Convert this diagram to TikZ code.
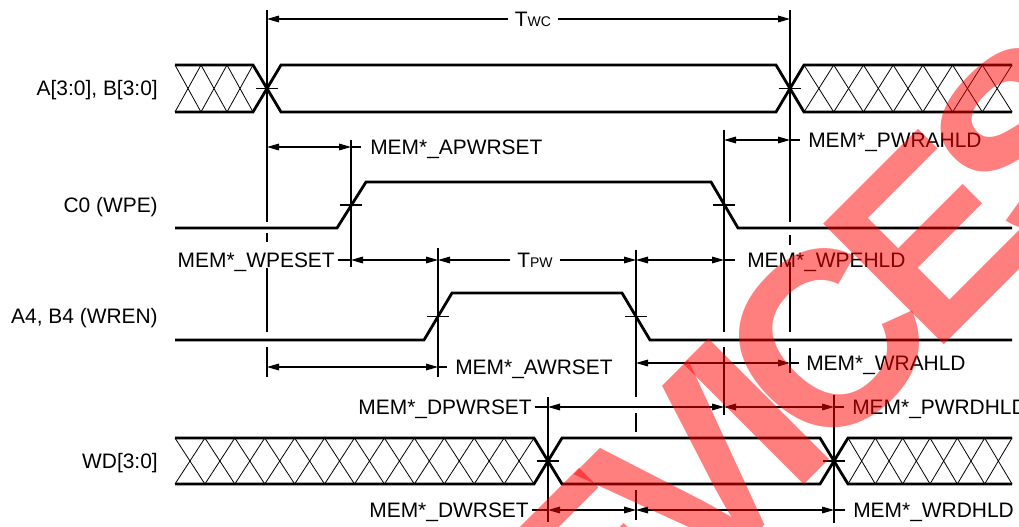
\documentclass[tikz,border=0pt]{standalone}
\usepackage{fontspec}
\setmainfont{Liberation Sans}
\newfontfamily\wmfont[LetterSpace=-10]{Liberation Sans Bold}
\usetikzlibrary{arrows.meta}
\newcommand\hatchfill[5]{%
  \pgfmathsetmacro\hatchp{(#2-#1)/#3}%
  \foreach \i in {1,...,#3}{%
    \draw[hatchline] ({#1+(\i-1)*\hatchp},#4) -- ({#1+\i*\hatchp},#5);
    \draw[hatchline] ({#1+(\i-1)*\hatchp},#5) -- ({#1+\i*\hatchp},#4);
  }}
\begin{document}
\begin{tikzpicture}[x=0.75pt,y=-0.75pt,
  sigline/.style={line width=2.1pt},
  fine/.style={line width=0.8pt},
  hatchline/.style={line width=0.6pt},
  dimarrow/.style={fine,{Triangle[length=9pt,width=5pt]}-{Triangle[length=9pt,width=5pt]}},
  tipto/.style={fine,-{Triangle[length=9pt,width=5pt]}},
  lab/.style={font=\fontsize{15.7}{18}\selectfont, inner sep=0pt, text height=11.24pt, text depth=0pt},
  durlab/.style={lab, fill=white, inner xsep=5pt},
  edgetick/.style={fine},
  watermark/.style={text=red, opacity=0.5, rotate=45, inner sep=0pt,
     font=\wmfont\fontsize{186}{186}\selectfont, text height=133pt, text depth=0pt}]
\useasboundingbox (0,0) rectangle (1019,527);

% guide coordinates
\coordinate (gA) at (267,0);
\coordinate (gB) at (351,0);
\coordinate (gC) at (438,0);
\coordinate (gD) at (636,0);
\coordinate (gE) at (724,0);
\coordinate (gF) at (790,0);
\coordinate (gG) at (548,0);
\coordinate (gH) at (834,0);
\coordinate (rTWC) at (0,19);
\coordinate (rAPW) at (0,147);
\coordinate (rPWRA) at (0,140);
\coordinate (rWPE) at (0,260);
\coordinate (rAWR) at (0,367);
\coordinate (rWRA) at (0,363);
\coordinate (rDPW) at (0,407);
\coordinate (rDWR) at (0,510);

% signal names
\node[lab, anchor=east] (nAB) at (158,88.5) {A[3:0], B[3:0]};
\node[lab, anchor=east] (nC0) at (158,205) {C0 (WPE)};
\node[lab, anchor=east] (nA4) at (158,316.5) {A4, B4 (WREN)};
\node[lab, anchor=east] (nWD) at (158,461) {WD[3:0]};

% guide lines
\draw[fine] (267,10) -- (267,222) (267,233) -- (267,242) (267,268) -- (267,332) (267,347) -- (267,377);
\draw[fine] (351,140) -- (351,267);
\draw[fine] (438,248) -- (438,377);
\draw[fine] (636,250) -- (636,397) (636,413) -- (636,432) (636,490) -- (636,520);
\draw[fine] (724,130) -- (724,332) (724,347) -- (724,415);
\draw[fine] (790,10) -- (790,222) (790,235) -- (790,245) (790,262) -- (790,332) (790,348) -- (790,373);
\draw[fine] (548,397) -- (548,522);
\draw[fine] (834,395) -- (834,523);

% A/B bus
\hatchfill{175}{253}{3}{65}{112}
\hatchfill{804}{1012}{7}{65}{112}
\draw[sigline] (175,65) -- (253,65) -- (281,112) -- (776,112) -- (804,65) -- (1012,65);
\draw[sigline] (175,112) -- (253,112) -- (281,65) -- (776,65) -- (804,112) -- (1012,112);

% C0
\draw[sigline] (175,228) -- (337,228) -- (366,182) -- (711,182) -- (738,228) -- (1012,228);
% A4
\draw[sigline] (175,340) -- (424,340) -- (452,293) -- (622,293) -- (650,340) -- (1012,340);
% WD bus
\hatchfill{175}{534}{12}{438}{484}
\hatchfill{848}{1012}{6}{438}{484}
\draw[sigline] (175,438) -- (534,438) -- (562,484) -- (820,484) -- (848,438) -- (1012,438);
\draw[sigline] (175,484) -- (534,484) -- (562,438) -- (820,438) -- (848,484) -- (1012,484);

% edge ticks
\foreach \p in {(267,88.5),(790,88.5),(351,205),(724,205),(438,316.5),(636,316.5),(548,461),(834,461)}{
  \draw[edgetick] \p ++(-11,0) -- ++(22,0);
}

% TWC
\node[durlab] (tTWC) at (533,19) {T{\fontsize{10.5}{12}\selectfont WC}};
\draw[tipto] (tTWC.west) -- (gA |- rTWC);
\draw[tipto] (tTWC.east) -- (gF |- rTWC);

% APWRSET
\draw[dimarrow] (gA |- rAPW) -- (gB |- rAPW);
\node[lab, anchor=west] (tAPW) at (370,147) {MEM*\_APWRSET};
\draw[fine] (gB |- rAPW) -- ([xshift=-7pt]tAPW.west);

% PWRAHLD
\draw[dimarrow] (gE |- rPWRA) -- (gF |- rPWRA);
\node[lab, anchor=west] (tPWRA) at (808,140) {MEM*\_PWRAHLD};
\draw[fine] (gF |- rPWRA) -- ([xshift=-6pt]tPWRA.west);

% WPESET / TPW / WPEHLD
\node[lab, anchor=east] (tWPES) at (335,260) {MEM*\_WPESET};
\draw[fine] ([xshift=2pt]tWPES.east) -- (gB |- rWPE);
\draw[dimarrow] (gB |- rWPE) -- (gC |- rWPE);
\node[durlab] (tTPW) at (535,260) {T{\fontsize{10.5}{12}\selectfont PW}};
\draw[tipto] (tTPW.west) -- (gC |- rWPE);
\draw[tipto] (tTPW.east) -- (gD |- rWPE);
\draw[dimarrow] (gD |- rWPE) -- (gE |- rWPE);
\node[lab, anchor=west] (tWPEH) at (747,260) {MEM*\_WPEHLD};
\draw[fine] (gE |- rWPE) -- ([xshift=-9pt]tWPEH.west);

% AWRSET
\draw[dimarrow] (gA |- rAWR) -- (gC |- rAWR);
\node[lab, anchor=west] (tAWR) at (455,367) {MEM*\_AWRSET};
\draw[fine] (gC |- rAWR) -- ([xshift=-6pt]tAWR.west);

% WRAHLD
\draw[dimarrow] (gD |- rWRA) -- (gF |- rWRA);
\node[lab, anchor=west] (tWRA) at (806,363) {MEM*\_WRAHLD};
\draw[fine] (gF |- rWRA) -- ([xshift=-5pt]tWRA.west);

% DPWRSET / PWRDHLD
\node[lab, anchor=east] (tDPW) at (532,407) {MEM*\_DPWRSET};
\draw[fine] ([xshift=2pt]tDPW.east) -- (gG |- rDPW);
\draw[dimarrow] (gG |- rDPW) -- (gE |- rDPW);
\draw[dimarrow] (gE |- rDPW) -- (gH |- rDPW);
\node[lab, anchor=west] (tPWRD) at (852,407) {MEM*\_PWRDHLD};
\draw[fine] (gH |- rDPW) -- ([xshift=-6pt]tPWRD.west);

% DWRSET / WRDHLD
\node[lab, anchor=east] (tDWR) at (529,510) {MEM*\_DWRSET};
\draw[fine] ([xshift=2pt]tDWR.east) -- (gG |- rDWR);
\draw[dimarrow] (gG |- rDWR) -- (gD |- rDWR);
\draw[dimarrow] (gD |- rDWR) -- (gH |- rDWR);
\node[lab, anchor=west] (tWRD) at (853,510) {MEM*\_WRDHLD};
\draw[fine] (gH |- rDWR) -- ([xshift=-6pt]tWRD.west);

% watermark
\node[watermark] (wm) at (754,410) {DEVICES};
\end{tikzpicture}
\end{document}
